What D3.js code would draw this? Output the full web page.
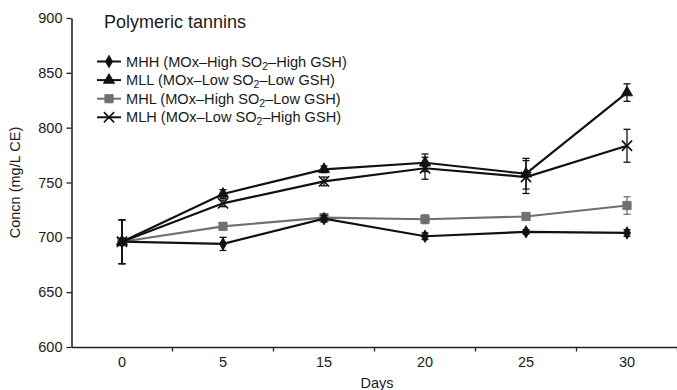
<!DOCTYPE html>
<html><head><meta charset="utf-8">
<script src="https://cdn.jsdelivr.net/npm/d3@7"></script>
<style>body{margin:0;background:#fff}svg{display:block}text{font-family:"Liberation Sans",Arial,Helvetica,sans-serif;fill:#1a1a1a}</style>
</head><body><svg id="c" width="677" height="390"></svg>
<script>
const days = ["0","5","15","20","25","30"];
const yTicks = [600,650,700,750,800,850,900];
const mhh = [696,694,717,701,705,704];
const mhhErr = [20,6,3,3,2,3];
const mll = [696,739.5,762,768,758,832];
const mllErr = [20,4,3,8,14,8];
const mhl = [696,710,718,716.5,719,729];
const mhlErr = [20,3,3,4,3,8];
const mlh = [696,731,751,763,755,783.5];
const mlhErr = [20,3,4,10,15,15];
const seriesNames = ["MHH","MLL","MHL","MLH"];
const seriesSO2 = ["High","Low","High","Low"];
const seriesGSH = ["High GSH","Low GSH","Low GSH","High GSH"];
const seriesData = [mhh,mll,mhl,mlh];
const seriesErr = [mhhErr,mllErr,mhlErr,mlhErr];
const seriesColor = ["#111","#111","#707070","#111"];
const seriesShape = ["diamond","triangle","square","x"];

const svg = d3.select("#c");
const L=71.5, R=677.5, T=18, B=347;
const x = d3.scaleBand().domain(days).range([L,R]);
const y = d3.scaleLinear().domain([600,900]).range([B,T]);

// y axis
const ya = svg.append("g").attr("transform",`translate(${L},0)`)
  .call(d3.axisLeft(y).tickValues(yTicks).tickSize(5).tickSizeOuter(0).tickPadding(4));
ya.select(".domain").attr("stroke","#222").attr("stroke-width",1.6);
ya.selectAll(".tick line").attr("stroke","#222").attr("stroke-width",1.3);
ya.selectAll("text").attr("font-size",14.5).attr("fill","#1a1a1a").attr("font-family","Liberation Sans,Arial,sans-serif");

// x axis
const xa = svg.append("g").attr("transform",`translate(0,${B})`)
  .call(d3.axisBottom(x).tickSize(0).tickSizeOuter(0).tickPadding(10));
xa.select(".domain").attr("stroke","#222").attr("stroke-width",1.6);
xa.selectAll("text").attr("font-size",14.5).attr("fill","#1a1a1a").attr("font-family","Liberation Sans,Arial,sans-serif");
svg.append("g").selectAll("line").data(days).join("line")
  .attr("x1",d=>x(d)+x.bandwidth()).attr("x2",d=>x(d)+x.bandwidth())
  .attr("y1",B).attr("y2",B+4.5).attr("stroke","#222").attr("stroke-width",1.3);

svg.append("text").attr("x",377).attr("y",388).attr("text-anchor","middle").attr("font-size",14.5).text("Days");
svg.append("text").attr("transform",`translate(20,${(T+B)/2}) rotate(-90)`).attr("text-anchor","middle").attr("font-size",14.5).text("Concn (mg/L CE)");
svg.append("text").attr("x",104).attr("y",28).attr("font-size",18).text("Polymeric tannins");

const cx = d => x(d)+x.bandwidth()/2;
const sym = {diamond:d3.symbolDiamond, triangle:d3.symbolTriangle, square:d3.symbolSquare, x:d3.symbolTimes};
const sz = {diamond:45, triangle:55, square:70, x:70};

function marker(g, shape, col, px, py){
  const p = g.append("path").attr("transform",`translate(${px},${py})`)
    .attr("d", d3.symbol().type(sym[shape]).size(sz[shape])());
  if(shape==="x") p.attr("fill","none").attr("stroke",col).attr("stroke-width",1.6);
  else p.attr("fill",col).attr("stroke",col).attr("stroke-width",0.8);
}

const line = d3.line().x((d,i)=>cx(days[i])).y(d=>y(d));
const order = [2,0,3,1];
order.forEach(k=>{
  const g = svg.append("g");
  const data = seriesData[k], err = seriesErr[k], col = seriesColor[k];
  g.append("path").attr("d",line(data)).attr("fill","none").attr("stroke",col).attr("stroke-width",2.2);
  data.forEach((v,i)=>{
    const px = cx(days[i]);
    g.append("line").attr("x1",px).attr("x2",px).attr("y1",y(v-err[i])).attr("y2",y(v+err[i])).attr("stroke",col).attr("stroke-width",1.3);
    [v-err[i],v+err[i]].forEach(e=>g.append("line").attr("x1",px-3.5).attr("x2",px+3.5).attr("y1",y(e)).attr("y2",y(e)).attr("stroke",col).attr("stroke-width",1.3));
    marker(g, seriesShape[k], col, px, y(v));
  });
});

// legend
const lg = svg.append("g");
seriesNames.forEach((n,i)=>{
  const ly = 61.5 + i*18.6;
  lg.append("line").attr("x1",97).attr("x2",121).attr("y1",ly).attr("y2",ly).attr("stroke",seriesColor[i]).attr("stroke-width",2);
  marker(lg, seriesShape[i], seriesColor[i], 109, ly);
  const t = lg.append("text").attr("x",126).attr("y",ly+5).attr("font-size",14.6);
  t.append("tspan").text(`${n} (MOx\u2013${seriesSO2[i]} SO`);
  t.append("tspan").attr("font-size",10.5).attr("dy",3).text("2");
  t.append("tspan").attr("dy",-3).text(`\u2013${seriesGSH[i]})`);
});
</script></body></html>
